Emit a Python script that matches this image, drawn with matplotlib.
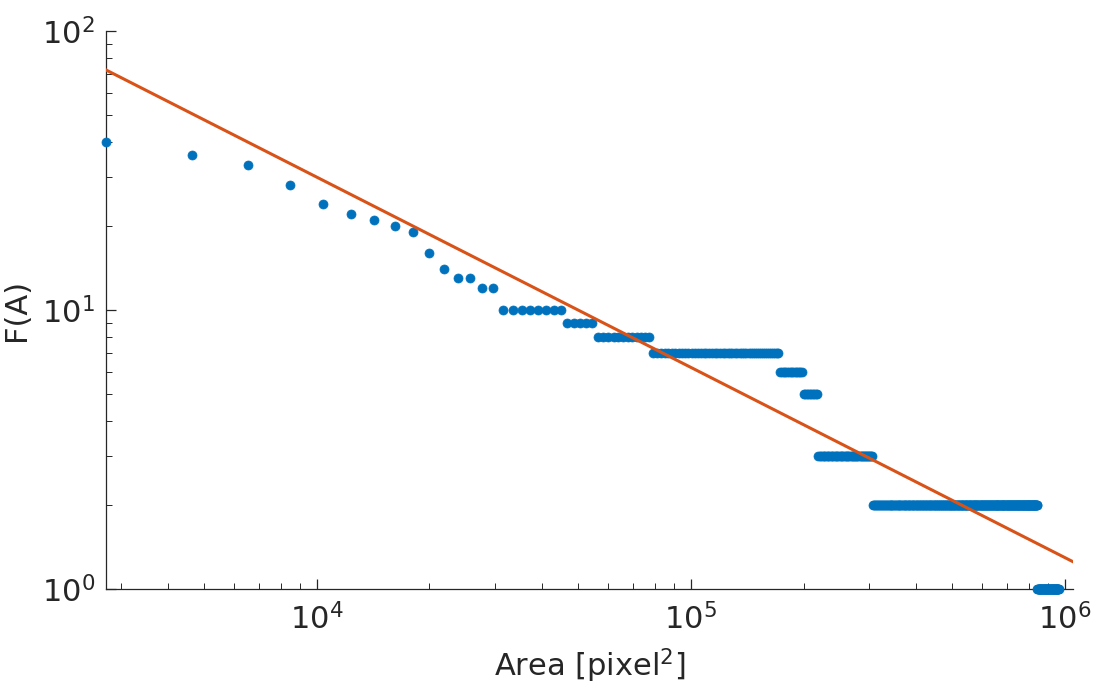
import numpy as np
import matplotlib
matplotlib.use("Agg")
import matplotlib.pyplot as plt
from matplotlib.ticker import LogLocator

# area bins (pixel^2)
first_area = 2733
bin_width = 1915
n_bins = 502

F_levels = [40, 36, 33, 28, 24, 22, 21, 20, 19, 16, 14, 13, 12, 10, 9, 8, 7, 6, 5, 3, 2, 1]
F_counts = [1, 1, 1, 1, 1, 1, 1, 1, 1, 1, 1, 2, 2, 8, 5, 12, 49, 14, 10, 46, 280, 63]

# power-law fit F = c * A^b
fit_c = 16000.0
fit_b = -0.682

x_max = 1.05e6


def main():
    area = first_area + bin_width * np.arange(n_bins)
    F = np.repeat(F_levels, F_counts)

    blue = '#0072BD'
    orange = '#D95319'
    dark = '#262626'

    fig = plt.figure(figsize=(10.94, 6.98), dpi=100)
    ax = fig.add_axes([0.0969, 0.1562, 0.8839, 0.7994])

    ax.plot(area, F, linestyle='none', marker='o', ms=6.5, color=blue,
            mec=blue, mew=0.5, clip_on=False, zorder=3)

    xfit = np.geomspace(first_area, x_max, 400)
    ax.plot(xfit, fit_c * xfit ** fit_b, color=orange, lw=2.2, zorder=4)

    ax.set_xscale('log')
    ax.set_yscale('log')
    ax.set_xlim(first_area, x_max)
    ax.set_ylim(1, 100)

    ax.spines['top'].set_visible(False)
    ax.spines['right'].set_visible(False)
    for s in ('left', 'bottom'):
        ax.spines[s].set_color(dark)
        ax.spines[s].set_linewidth(0.9)

    ax.xaxis.set_minor_locator(LogLocator(base=10, subs=np.arange(2, 10)))
    ax.yaxis.set_minor_locator(LogLocator(base=10, subs=np.arange(2, 10)))
    ax.tick_params(which='both', direction='in', color=dark, labelcolor=dark,
                   top=False, right=False)
    ax.tick_params(which='major', length=7, width=0.9, labelsize=22, pad=8)
    ax.tick_params(which='minor', length=4, width=0.7)
    ax.tick_params(axis='x', which='major', pad=10)

    ax.set_xlabel('Area [pixel$^2$]', fontsize=22, color=dark, labelpad=8)
    ax.set_ylabel('F(A)', fontsize=22, color=dark, labelpad=8)

    fig.savefig('out.png', dpi=100)


if __name__ == "__main__":
    main()
